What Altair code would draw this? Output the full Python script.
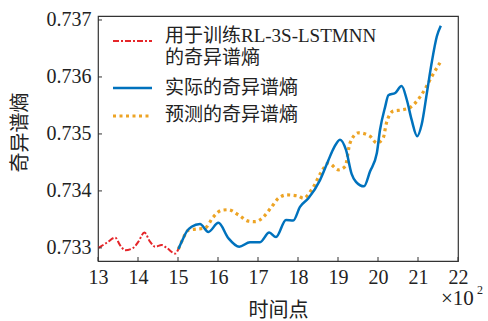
import altair as alt
import pandas as pd

# Time points (x10^2) and singular spectrum entropy values
train_t = [13.01, 13.22, 13.43, 13.55, 13.68, 13.88, 14.01, 14.16, 14.30, 14.43, 14.59, 14.72, 14.93, 15.01]
train_v = [0.73300, 0.73309, 0.73318, 0.73305, 0.73296, 0.73300, 0.73311, 0.73327, 0.73311, 0.73302,
           0.73305, 0.73300, 0.73290, 0.73298]

actual_t = [15.01, 15.10, 15.22, 15.34, 15.55, 15.76, 16.01, 16.26, 16.53, 16.80, 17.05, 17.28, 17.45,
            17.70, 17.88, 18.05, 18.26, 18.55, 18.76, 18.90, 19.05, 19.20, 19.34, 19.45, 19.65, 19.80,
            19.97, 20.05, 20.18, 20.26, 20.43, 20.59, 20.72, 20.84, 20.98, 21.09, 21.22, 21.34, 21.47, 21.57]
actual_v = [0.73298, 0.73312, 0.73329, 0.73337, 0.73342, 0.73328, 0.73344, 0.73317, 0.73302, 0.73310,
            0.73310, 0.73327, 0.73319, 0.73349, 0.73348, 0.73372, 0.73387, 0.73419, 0.73454, 0.73476,
            0.73490, 0.73472, 0.73430, 0.73416, 0.73408, 0.73434, 0.73466, 0.73507, 0.73548, 0.73568,
            0.73572, 0.73584, 0.73560, 0.73525, 0.73496, 0.73516, 0.73571, 0.73624, 0.73671, 0.73690]

pred_t = [15.01, 15.09, 15.26, 15.47, 15.68, 15.88, 16.09, 16.26, 16.51, 16.76, 16.93, 17.13, 17.34,
          17.51, 17.72, 18.01, 18.13, 18.34, 18.59, 18.76, 19.01, 19.18, 19.30, 19.51, 19.80, 19.97,
          20.13, 20.21, 20.38, 20.58, 20.79, 21.00, 21.17, 21.33, 21.55]
pred_v = [0.73298, 0.73311, 0.73331, 0.73333, 0.73335, 0.73354, 0.73366, 0.73367, 0.73358, 0.73347,
          0.73346, 0.73354, 0.73372, 0.73387, 0.73393, 0.73391, 0.73387, 0.73402, 0.73434, 0.73449,
          0.73437, 0.73443, 0.73484, 0.73502, 0.73496, 0.73484, 0.73493, 0.73519, 0.73540, 0.73542,
          0.73546, 0.73560, 0.73578, 0.73599, 0.73625]

x_ticks = [13, 14, 15, 16, 17, 18, 19, 20, 21, 22]
y_ticks = [0.733, 0.734, 0.735, 0.736, 0.737]

legend_lines = ["用于训练RL-3S-LSTMNN", "的奇异谱熵", "实际的奇异谱熵", "预测的奇异谱熵"]

RED, BLUE, ORANGE = "#E5262A", "#0072BD", "#EDA425"
FONT = "Liberation Serif, Noto Sans CJK SC"
INK = "#222222"
W, H = 360, 245

x_scale = alt.Scale(domain=[13, 22], nice=False, zero=False)
y_scale = alt.Scale(domain=[0.73277, 0.73707], nice=False, zero=False)

x_axis = alt.Axis(values=x_ticks, format="d", title="时间点", grid=False, domain=False, ticks=False,
                  labelFontSize=20, labelPadding=6, titleFontSize=20, titlePadding=13,
                  labelFont=FONT, titleFont=FONT, labelColor=INK, titleColor=INK,
                  titleFontWeight="normal", labelFlush=False)
y_axis = alt.Axis(values=y_ticks, format=".3f", title="奇异谱熵", grid=False, domain=False, ticks=False,
                  labelFontSize=20, labelPadding=7, titleFontSize=20, titlePadding=16,
                  labelFont=FONT, titleFont=FONT, labelColor=INK, titleColor=INK,
                  titleFontWeight="normal", labelFlush=False, titleY=116)

train_df = pd.DataFrame({"t": train_t, "v": train_v})
actual_df = pd.DataFrame({"t": actual_t, "v": actual_v})
pred_df = pd.DataFrame({"t": pred_t, "v": pred_v})

def series(df, **mark):
    return alt.Chart(df).mark_line(interpolate="monotone", **mark).encode(
        x=alt.X("t:Q", scale=x_scale, axis=x_axis),
        y=alt.Y("v:Q", scale=y_scale, axis=y_axis),
    )

train_line = series(train_df, color=RED, strokeWidth=2, strokeDash=[6, 2, 2, 2])
actual_line = series(actual_df, color=BLUE, strokeWidth=2.5)
pred_line = series(pred_df, color=ORANGE, strokeWidth=3.2, strokeDash=[3, 3.5], strokeCap="butt")

# inward tick marks on the left and bottom edges
xt = alt.Chart(pd.DataFrame({"t": x_ticks})).mark_rule(color="#333", strokeWidth=1).encode(
    x=alt.X("t:Q", scale=x_scale, axis=x_axis), y=alt.value(H - 4), y2=alt.value(H))
yt = alt.Chart(pd.DataFrame({"v": y_ticks})).mark_rule(color="#333", strokeWidth=1).encode(
    y=alt.Y("v:Q", scale=y_scale, axis=y_axis), x=alt.value(0), x2=alt.value(4))

# legend
def leg_rule(k, y, **mark):
    return alt.Chart(pd.DataFrame({"k": [k]})).mark_rule(**mark).encode(
        x=alt.value(15), x2=alt.value(54), y=alt.value(y))

leg_red = leg_rule("train", 25, color=RED, strokeWidth=2, strokeDash=[6, 2, 2, 2])
leg_blue = leg_rule("actual", 72, color=BLUE, strokeWidth=2.5)
leg_orange = leg_rule("pred", 100, color=ORANGE, strokeWidth=3.2, strokeDash=[3, 3.5], strokeCap="butt")

leg_text = alt.Chart(pd.DataFrame({"label": legend_lines, "py": [20, 42, 72, 99]})).mark_text(
    align="left", baseline="middle", font=FONT, fontSize=19, color=INK
).encode(x=alt.value(67), y=alt.Y("py:Q", scale=None), text="label:N")

# exponent note under the x axis
exp_base = alt.Chart(pd.DataFrame({"s": ["×10"]})).mark_text(
    align="left", baseline="middle", font=FONT, fontSize=21, color=INK
).encode(x=alt.value(343), y=alt.value(38 + H), text="s:N")
exp_pow = alt.Chart(pd.DataFrame({"s": ["2"]})).mark_text(
    align="left", baseline="middle", font=FONT, fontSize=12, color=INK
).encode(x=alt.value(379), y=alt.value(29 + H), text="s:N")

chart = alt.layer(
    train_line, pred_line, actual_line, xt, yt,
    leg_red, leg_blue, leg_orange, leg_text, exp_base, exp_pow
).properties(
    width=W, height=H,
    autosize=alt.AutoSizeParams(type="none"),
    padding={"left": 98, "top": 16, "right": 30, "bottom": 60},
    background="white",
).configure_view(stroke="#333333", strokeWidth=1.2)

chart.save("out.html", embed_options={"renderer": "svg", "actions": False})
